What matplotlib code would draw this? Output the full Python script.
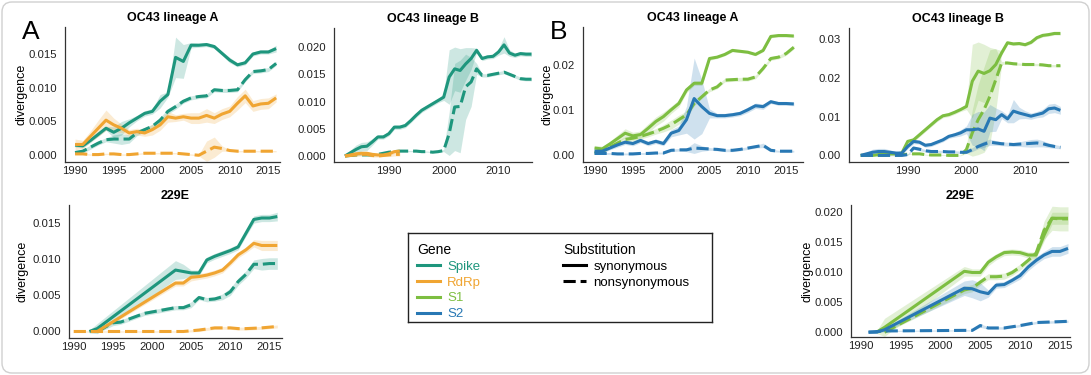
import numpy as np
import matplotlib
matplotlib.use("Agg")
import matplotlib.pyplot as plt
from matplotlib.lines import Line2D
from matplotlib.patches import FancyBboxPatch

plt.rcParams['font.family'] = ['Liberation Sans', 'DejaVu Sans']

# colours per gene
c_spike = '#1e967d'
c_rdrp = '#f0a532'
c_s1 = '#7dbe41'
c_s2 = '#2878b4'

# ---------------- OC43 lineage A (1990-2016) ----------------
years_a = list(range(1990, 2017))
a_spike_syn = [0.0015, 0.0014, 0.0022, 0.0031, 0.0040, 0.0034, 0.0040, 0.0048, 0.0055, 0.0062,
               0.0065, 0.0080, 0.0090, 0.0145, 0.0139, 0.0163, 0.0163, 0.0164, 0.0161, 0.0151,
               0.0141, 0.0134, 0.0137, 0.0150, 0.0153, 0.0153, 0.0158]
a_spike_syn_ci = [0.0003, 0.0003, 0.0003, 0.0003, 0.0003, 0.0008, 0.0010, 0.0006, 0.0004, 0.0004,
                  0.0004, 0.0010, 0.0004, 0.0030, 0.0025, 0.0004, 0.0003, 0.0003, 0.0003, 0.0003,
                  0.0004, 0.0003, 0.0003, 0.0003, 0.0003, 0.0003, 0.0005]
a_spike_non = [0.0004, 0.0006, 0.0012, 0.0018, 0.0023, 0.0024, 0.0024, 0.0024, 0.0033, 0.0038,
               0.0043, 0.0052, 0.0065, 0.0072, 0.0080, 0.0085, 0.0087, 0.0088, 0.0097, 0.0096,
               0.0096, 0.0097, 0.0112, 0.0124, 0.0125, 0.0127, 0.0136]
a_spike_non_ci = [0.0003, 0.0003, 0.0003, 0.0003, 0.0003, 0.0006, 0.0008, 0.0006, 0.0004, 0.0003,
                  0.0003, 0.0004, 0.0004, 0.0004, 0.0003, 0.0003, 0.0003, 0.0003, 0.0003, 0.0003,
                  0.0003, 0.0003, 0.0003, 0.0003, 0.0003, 0.0003, 0.0003]
a_rdrp_syn = [0.0016, 0.0016, 0.0028, 0.0040, 0.0052, 0.0045, 0.0040, 0.0033, 0.0035, 0.0033,
              0.0038, 0.0045, 0.0057, 0.0055, 0.0057, 0.0055, 0.0055, 0.0059, 0.0055, 0.0061,
              0.0065, 0.0077, 0.0088, 0.0073, 0.0076, 0.0077, 0.0085]
a_rdrp_syn_ci = [0.0008, 0.0006, 0.0008, 0.0012, 0.0015, 0.0010, 0.0006, 0.0005, 0.0005, 0.0005,
                 0.0008, 0.0008, 0.0008, 0.0005, 0.0005, 0.0008, 0.0008, 0.0010, 0.0008, 0.0008,
                 0.0008, 0.0010, 0.0010, 0.0008, 0.0008, 0.0008, 0.0006]
a_rdrp_non = [0.0002, 0.0002, 0.0001, 0.0001, 0.0002, 0.0002, 0.0001, 0.0001, 0.0002, 0.0003,
              0.0003, 0.0003, 0.0003, 0.0003, 0.0002, 0.0001, 0.0000, 0.0006, 0.0012, 0.0010,
              0.0007, 0.0006, 0.0006, 0.0006, 0.0006, 0.0006, 0.0006]
a_rdrp_non_ci = [0.0001, 0.0001, 0.0001, 0.0001, 0.0001, 0.0001, 0.0001, 0.0001, 0.0001, 0.0001,
                 0.0001, 0.0001, 0.0001, 0.0001, 0.0001, 0.0001, 0.0001, 0.0015, 0.0015, 0.0004,
                 0.0001, 0.0001, 0.0001, 0.0001, 0.0001, 0.0001, 0.0001]
a_s1_syn = [0.0016, 0.0014, 0.0025, 0.0037, 0.0049, 0.0043, 0.0046, 0.0060, 0.0075, 0.0086,
            0.0101, 0.0115, 0.0145, 0.0160, 0.0160, 0.0215, 0.0218, 0.0224, 0.0233, 0.0231,
            0.0229, 0.0224, 0.0233, 0.0264, 0.0266, 0.0266, 0.0265]
a_s1_syn_ci = [0.0006, 0.0006, 0.0006, 0.0008, 0.0010, 0.0008, 0.0008, 0.0010, 0.0010, 0.0010,
               0.0008, 0.0008, 0.0006, 0.0005, 0.0005, 0.0004, 0.0003, 0.0003, 0.0003, 0.0003,
               0.0003, 0.0003, 0.0003, 0.0003, 0.0003, 0.0003, 0.0003]
a_s1_non = [0.0005, 0.0008, 0.0018, 0.0027, 0.0035, 0.0038, 0.0042, 0.0047, 0.0053, 0.0060,
            0.0068, 0.0079, 0.0090, 0.0115, 0.0130, 0.0145, 0.0152, 0.0167, 0.0168, 0.0169,
            0.0169, 0.0174, 0.0193, 0.0215, 0.0218, 0.0226, 0.0240]
a_s1_non_ci = [0.0003, 0.0003, 0.0004, 0.0005, 0.0006, 0.0006, 0.0006, 0.0006, 0.0006, 0.0008,
               0.0010, 0.0010, 0.0008, 0.0005, 0.0004, 0.0004, 0.0004, 0.0004, 0.0004, 0.0004,
               0.0004, 0.0004, 0.0004, 0.0004, 0.0004, 0.0004, 0.0004]
a_s2_syn = [0.0009, 0.0009, 0.0016, 0.0023, 0.0029, 0.0026, 0.0033, 0.0026, 0.0031, 0.0026,
            0.0049, 0.0055, 0.0079, 0.0126, 0.0108, 0.0093, 0.0088, 0.0088, 0.0090, 0.0093,
            0.0101, 0.0110, 0.0108, 0.0119, 0.0115, 0.0115, 0.0114]
a_s2_syn_ci = [0.0004, 0.0004, 0.0004, 0.0005, 0.0005, 0.0005, 0.0005, 0.0005, 0.0005, 0.0005,
               0.0008, 0.0010, 0.0030, 0.0090, 0.0060, 0.0010, 0.0005, 0.0005, 0.0005, 0.0005,
               0.0006, 0.0006, 0.0006, 0.0004, 0.0004, 0.0004, 0.0004]
a_s2_non = [0.0004, 0.0004, 0.0004, 0.0003, 0.0003, 0.0003, 0.0004, 0.0004, 0.0005, 0.0005,
            0.0011, 0.0012, 0.0012, 0.0016, 0.0015, 0.0014, 0.0013, 0.0011, 0.0011, 0.0013,
            0.0016, 0.0019, 0.0022, 0.0011, 0.0009, 0.0009, 0.0009]
a_s2_non_ci = [0.0002, 0.0002, 0.0002, 0.0002, 0.0002, 0.0002, 0.0002, 0.0002, 0.0002, 0.0002,
               0.0003, 0.0003, 0.0004, 0.0012, 0.0006, 0.0003, 0.0003, 0.0003, 0.0003, 0.0003,
               0.0003, 0.0003, 0.0005, 0.0003, 0.0002, 0.0002, 0.0002]

# ---------------- OC43 lineage B (1982-2016) ----------------
years_b = list(range(1982, 2017))
b_spike_syn = [0.0000, 0.0006, 0.0012, 0.0017, 0.0018, 0.0026, 0.0035, 0.0035, 0.0041, 0.0053,
               0.0053, 0.0056, 0.0065, 0.0075, 0.0084, 0.0090, 0.0096, 0.0102, 0.0108, 0.0145,
               0.0160, 0.0157, 0.0169, 0.0179, 0.0194, 0.0179, 0.0182, 0.0183, 0.0191, 0.0204,
               0.0189, 0.0185, 0.0188, 0.0187, 0.0187]
b_spike_syn_ci = [0.0001, 0.0005, 0.0008, 0.0008, 0.0008, 0.0006, 0.0004, 0.0004, 0.0004, 0.0004,
                  0.0004, 0.0004, 0.0004, 0.0004, 0.0004, 0.0004, 0.0004, 0.0004, 0.0006, 0.0050,
                  0.0040, 0.0040, 0.0030, 0.0020, 0.0004, 0.0004, 0.0004, 0.0004, 0.0006, 0.0015,
                  0.0006, 0.0004, 0.0004, 0.0004, 0.0004]
b_spike_non = [0.0000, 0.0001, 0.0002, 0.0002, 0.0002, 0.0002, 0.0003, 0.0005, 0.0007, 0.0008,
               0.0009, 0.0009, 0.0009, 0.0009, 0.0008, 0.0008, 0.0007, 0.0008, 0.0010, 0.0041,
               0.0090, 0.0091, 0.0127, 0.0136, 0.0160, 0.0148, 0.0148, 0.0150, 0.0152, 0.0154,
               0.0150, 0.0146, 0.0142, 0.0141, 0.0141]
b_spike_non_ci = [0.0001, 0.0001, 0.0001, 0.0001, 0.0001, 0.0001, 0.0001, 0.0001, 0.0001, 0.0001,
                  0.0001, 0.0001, 0.0001, 0.0001, 0.0001, 0.0001, 0.0001, 0.0001, 0.0002, 0.0040,
                  0.0080, 0.0085, 0.0060, 0.0045, 0.0010, 0.0003, 0.0003, 0.0003, 0.0003, 0.0003,
                  0.0003, 0.0003, 0.0003, 0.0003, 0.0003]
years_b_rdrp = list(range(1982, 1993))
b_rdrp_syn = [0.0000, 0.0002, 0.0004, 0.0005, 0.0005, 0.0003, 0.0002, 0.0002, 0.0004, 0.0008, 0.0009]
b_rdrp_non = [0.0000, 0.0001, 0.0002, 0.0003, 0.0003, 0.0001, 0.0000, 0.0001, 0.0002, 0.0003, 0.0003]
b_rdrp_ci = [0.0001, 0.0002, 0.0003, 0.0003, 0.0003, 0.0003, 0.0002, 0.0002, 0.0003, 0.0003, 0.0003]
b_s1_syn = [0.0000, 0.0000, 0.0000, 0.0002, 0.0004, 0.0004, 0.0004, 0.0006, 0.0036, 0.0040,
            0.0053, 0.0066, 0.0079, 0.0092, 0.0102, 0.0105, 0.0111, 0.0118, 0.0126, 0.0191,
            0.0217, 0.0211, 0.0218, 0.0234, 0.0264, 0.0290, 0.0287, 0.0288, 0.0285, 0.0291,
            0.0303, 0.0309, 0.0311, 0.0314, 0.0314]
b_s1_syn_ci = [0.0001, 0.0001, 0.0001, 0.0002, 0.0002, 0.0002, 0.0002, 0.0002, 0.0005, 0.0005,
               0.0005, 0.0005, 0.0005, 0.0005, 0.0005, 0.0005, 0.0005, 0.0005, 0.0008, 0.0095,
               0.0075, 0.0075, 0.0060, 0.0040, 0.0006, 0.0004, 0.0004, 0.0004, 0.0004, 0.0004,
               0.0004, 0.0004, 0.0004, 0.0004, 0.0004]
b_s1_non = [0.0000, 0.0000, 0.0000, 0.0000, 0.0000, 0.0001, 0.0001, 0.0002, 0.0003, 0.0004,
            0.0004, 0.0002, 0.0001, 0.0001, 0.0001, 0.0000, 0.0000, 0.0000, 0.0015, 0.0058,
            0.0092, 0.0118, 0.0152, 0.0195, 0.0238, 0.0238, 0.0236, 0.0235, 0.0234, 0.0234,
            0.0234, 0.0233, 0.0231, 0.0231, 0.0231]
b_s1_non_ci = [0.0001, 0.0001, 0.0001, 0.0001, 0.0001, 0.0001, 0.0001, 0.0001, 0.0001, 0.0001,
               0.0001, 0.0001, 0.0001, 0.0001, 0.0001, 0.0001, 0.0001, 0.0001, 0.0010, 0.0060,
               0.0090, 0.0110, 0.0120, 0.0080, 0.0004, 0.0003, 0.0003, 0.0003, 0.0003, 0.0003,
               0.0003, 0.0003, 0.0003, 0.0003, 0.0003]
b_s2_syn = [0.0000, 0.0004, 0.0008, 0.0010, 0.0010, 0.0008, 0.0006, 0.0006, 0.0023, 0.0036,
            0.0034, 0.0026, 0.0028, 0.0034, 0.0040, 0.0049, 0.0053, 0.0058, 0.0066, 0.0066,
            0.0068, 0.0062, 0.0096, 0.0092, 0.0105, 0.0094, 0.0114, 0.0109, 0.0105, 0.0101,
            0.0105, 0.0109, 0.0120, 0.0122, 0.0116]
b_s2_syn_ci = [0.0002, 0.0004, 0.0008, 0.0008, 0.0008, 0.0006, 0.0004, 0.0004, 0.0006, 0.0006,
               0.0005, 0.0005, 0.0005, 0.0005, 0.0005, 0.0005, 0.0006, 0.0008, 0.0010, 0.0040,
               0.0045, 0.0050, 0.0035, 0.0030, 0.0010, 0.0010, 0.0030, 0.0015, 0.0010, 0.0008,
               0.0008, 0.0010, 0.0012, 0.0012, 0.0010]
b_s2_non = [0.0000, 0.0000, 0.0000, 0.0000, 0.0000, 0.0000, 0.0000, 0.0000, 0.0002, 0.0019,
            0.0016, 0.0012, 0.0010, 0.0010, 0.0010, 0.0009, 0.0009, 0.0008, 0.0008, 0.0015,
            0.0023, 0.0029, 0.0034, 0.0032, 0.0030, 0.0029, 0.0028, 0.0029, 0.0030, 0.0031,
            0.0032, 0.0030, 0.0026, 0.0023, 0.0021]
b_s2_non_ci = [0.0001, 0.0001, 0.0001, 0.0001, 0.0001, 0.0001, 0.0001, 0.0001, 0.0002, 0.0004,
               0.0004, 0.0003, 0.0003, 0.0003, 0.0003, 0.0003, 0.0003, 0.0003, 0.0003, 0.0005,
               0.0006, 0.0008, 0.0008, 0.0006, 0.0005, 0.0005, 0.0005, 0.0006, 0.0008, 0.0010,
               0.0010, 0.0008, 0.0006, 0.0005, 0.0004]

# ---------------- 229E ----------------
e_spike_syn_x = [1992, 1993, 2003, 2004, 2005, 2006, 2007, 2008, 2009, 2010, 2011, 2012, 2013, 2014, 2015, 2016]
e_spike_syn = [0.0000, 0.0004, 0.0085, 0.0083, 0.0081, 0.0081, 0.0099, 0.0104, 0.0108, 0.0112,
               0.0117, 0.0136, 0.0155, 0.0157, 0.0157, 0.0159]
e_spike_syn_ci = [0.0002, 0.0007, 0.0013, 0.0010, 0.0004, 0.0004, 0.0004, 0.0004, 0.0004, 0.0004,
                  0.0004, 0.0004, 0.0005, 0.0005, 0.0005, 0.0006]
e_rdrp_syn_x = [1993, 2003, 2004, 2005, 2006, 2007, 2008, 2009, 2010, 2011, 2012, 2013, 2014, 2015, 2016]
e_rdrp_syn = [0.0000, 0.0067, 0.0067, 0.0075, 0.0076, 0.0078, 0.0081, 0.0085, 0.0095, 0.0106,
              0.0113, 0.0122, 0.0119, 0.0119, 0.0119]
e_rdrp_syn_ci = [0.0002, 0.0004, 0.0004, 0.0005, 0.0004, 0.0004, 0.0004, 0.0004, 0.0004, 0.0004,
                 0.0004, 0.0005, 0.0007, 0.0007, 0.0007]
e_spike_non_x = [1993, 1995, 1996, 1999, 2003, 2004, 2005, 2006, 2007, 2008, 2009, 2010, 2011,
                 2012, 2013, 2014, 2015, 2016]
e_spike_non = [0.0000, 0.0012, 0.0013, 0.0025, 0.0033, 0.0033, 0.0037, 0.0047, 0.0044, 0.0045,
               0.0048, 0.0055, 0.0069, 0.0079, 0.0093, 0.0093, 0.0094, 0.0094]
e_spike_non_ci = [0.0002, 0.0004, 0.0003, 0.0003, 0.0003, 0.0003, 0.0004, 0.0003, 0.0003, 0.0003,
                  0.0004, 0.0005, 0.0005, 0.0005, 0.0006, 0.0008, 0.0008, 0.0008]
e_rdrp_non_x = [1990, 1992, 1995, 2000, 2004, 2006, 2008, 2010, 2011, 2012, 2014, 2016]
e_rdrp_non = [0.0000, 0.0000, 0.0000, 0.0000, 0.0000, 0.0002, 0.0005, 0.0005, 0.0004, 0.0004,
              0.0005, 0.0007]
e_rdrp_non_ci = [0.0001, 0.0001, 0.0001, 0.0001, 0.0001, 0.0002, 0.0002, 0.0002, 0.0002, 0.0002,
                 0.0002, 0.0002]
e_s1_syn_x = [1992, 1993, 2003, 2004, 2005, 2006, 2007, 2008, 2009, 2010, 2011, 2012, 2013, 2014, 2015, 2016]
e_s1_syn = [0.0000, 0.0008, 0.0101, 0.0099, 0.0099, 0.0116, 0.0125, 0.0132, 0.0133, 0.0132,
            0.0128, 0.0128, 0.0161, 0.0189, 0.0189, 0.0189]
e_s1_syn_ci = [0.0002, 0.0015, 0.0008, 0.0006, 0.0006, 0.0006, 0.0005, 0.0005, 0.0005, 0.0005,
               0.0005, 0.0005, 0.0010, 0.0010, 0.0010, 0.0010]
e_s1_non_x = [1993, 2003, 2004, 2005, 2006, 2007, 2008, 2009, 2010, 2011, 2012, 2013, 2014, 2015, 2016]
e_s1_non = [0.0000, 0.0070, 0.0073, 0.0083, 0.0092, 0.0092, 0.0093, 0.0099, 0.0108, 0.0119,
            0.0131, 0.0169, 0.0189, 0.0188, 0.0188]
e_s1_non_ci = [0.0002, 0.0006, 0.0006, 0.0005, 0.0005, 0.0005, 0.0005, 0.0005, 0.0005, 0.0005,
               0.0006, 0.0015, 0.0020, 0.0020, 0.0020]
e_s2_syn_x = [1991, 1992, 1993, 2003, 2004, 2005, 2006, 2007, 2008, 2009, 2010, 2011, 2012,
              2013, 2014, 2015, 2016]
e_s2_syn = [0.0000, 0.0000, 0.0004, 0.0073, 0.0072, 0.0067, 0.0064, 0.0078, 0.0079, 0.0086,
            0.0094, 0.0108, 0.0119, 0.0128, 0.0134, 0.0134, 0.0139]
e_s2_syn_ci = [0.0001, 0.0001, 0.0003, 0.0012, 0.0015, 0.0015, 0.0006, 0.0005, 0.0005, 0.0005,
               0.0006, 0.0006, 0.0006, 0.0006, 0.0008, 0.0008, 0.0008]
e_s2_non_x = [1991, 1993, 2003, 2004, 2005, 2006, 2007, 2008, 2010, 2012, 2014, 2016]
e_s2_non = [0.0000, 0.0002, 0.0003, 0.0003, 0.0011, 0.0007, 0.0007, 0.0007, 0.0011, 0.0016,
            0.0017, 0.0018]
e_s2_non_ci = [0.0001, 0.0001, 0.0001, 0.0001, 0.0003, 0.0002, 0.0002, 0.0002, 0.0002, 0.0002,
               0.0002, 0.0002]

W, H = 1091, 375


def px_axes(fig, left, top, right, bottom):
    return fig.add_axes([left / W, 1 - bottom / H, (right - left) / W, (bottom - top) / H])


def draw(ax, x, y, ci, color, dashed=False):
    x = np.asarray(x, float)
    y = np.asarray(y)
    ci = np.asarray(ci)
    ax.fill_between(x, y - ci, y + ci, color=color, alpha=0.22, lw=0)
    ls = (0, (4, 1.6)) if dashed else '-'
    ax.plot(x, y, color=color, lw=2.2, linestyle=ls, solid_capstyle='butt')


def style(ax, title, xlim, ylim, xticks, yticks, yfmt, ylabel_x=None):
    ax.set_xlim(xlim)
    ax.set_ylim(ylim)
    ax.set_xticks(xticks)
    ax.set_yticks(yticks)
    ax.set_yticklabels([yfmt % v for v in yticks])
    for s in ['top', 'right']:
        ax.spines[s].set_visible(False)
    for s in ['left', 'bottom']:
        ax.spines[s].set_color('#333333')
        ax.spines[s].set_linewidth(0.9)
    ax.tick_params(length=0, labelsize=8.2, colors='#222222')
    ax.tick_params(axis='y', pad=6)
    ax.tick_params(axis='x', pad=3)
    ax.set_title(title, fontsize=9, fontweight='bold', pad=4)
    if ylabel_x is not None:
        ax.set_ylabel('divergence', fontsize=9)
        bb = ax.get_position()
        ax.yaxis.set_label_coords((ylabel_x / W - bb.x0) / bb.width, 0.5)


fig = plt.figure(figsize=(W / 100, H / 100), dpi=100)

# figure border
fig.patches.append(FancyBboxPatch((0.02, 0.02), W / 100 - 0.04, H / 100 - 0.04,
                                  boxstyle='round,pad=0,rounding_size=0.1',
                                  transform=fig.dpi_scale_trans, fc='none',
                                  ec='#d0d0d0', lw=1.0))

# Panel A, OC43 lineage A
ax1 = px_axes(fig, 65, 27, 280, 162)
draw(ax1, years_a, a_spike_syn, a_spike_syn_ci, c_spike)
draw(ax1, years_a, a_spike_non, a_spike_non_ci, c_spike, True)
draw(ax1, years_a, a_rdrp_syn, a_rdrp_syn_ci, c_rdrp)
draw(ax1, years_a, a_rdrp_non, a_rdrp_non_ci, c_rdrp, True)
style(ax1, 'OC43 lineage A', (1988.7, 2016.5), (-0.001, 0.019), range(1990, 2016, 5),
      [0, 0.005, 0.010, 0.015], '%.3f', ylabel_x=28)

# Panel A, OC43 lineage B
ax2 = px_axes(fig, 334, 28, 532, 162)
draw(ax2, years_b, b_spike_syn, b_spike_syn_ci, c_spike)
draw(ax2, years_b, b_spike_non, b_spike_non_ci, c_spike, True)
draw(ax2, years_b_rdrp, b_rdrp_syn, b_rdrp_ci, c_rdrp)
draw(ax2, years_b_rdrp, b_rdrp_non, b_rdrp_ci, c_rdrp, True)
style(ax2, 'OC43 lineage B', (1980, 2016.1), (-0.0011, 0.0235), [1990, 2000, 2010],
      [0, 0.005, 0.010, 0.015, 0.020], '%.3f')

# Panel B, OC43 lineage A
ax3 = px_axes(fig, 583, 27, 803, 162)
draw(ax3, years_a, a_s1_syn, a_s1_syn_ci, c_s1)
draw(ax3, years_a, a_s1_non, a_s1_non_ci, c_s1, True)
draw(ax3, years_a, a_s2_syn, a_s2_syn_ci, c_s2)
draw(ax3, years_a, a_s2_non, a_s2_non_ci, c_s2, True)
style(ax3, 'OC43 lineage A', (1988.5, 2017.2), (-0.0015, 0.0285), range(1990, 2016, 5),
      [0, 0.01, 0.02], '%.2f', ylabel_x=553)

# Panel B, OC43 lineage B
ax4 = px_axes(fig, 849, 28, 1068, 162)
draw(ax4, years_b, b_s1_syn, b_s1_syn_ci, c_s1)
draw(ax4, years_b, b_s1_non, b_s1_non_ci, c_s1, True)
draw(ax4, years_b, b_s2_syn, b_s2_syn_ci, c_s2)
draw(ax4, years_b, b_s2_non, b_s2_non_ci, c_s2, True)
style(ax4, 'OC43 lineage B', (1980, 2017.3), (-0.0017, 0.0328), [1990, 2000, 2010],
      [0, 0.01, 0.02, 0.03], '%.2f')

# Panel A, 229E
ax5 = px_axes(fig, 69, 205, 282, 338)
draw(ax5, e_spike_syn_x, e_spike_syn, e_spike_syn_ci, c_spike)
draw(ax5, e_spike_non_x, e_spike_non, e_spike_non_ci, c_spike, True)
draw(ax5, e_rdrp_syn_x, e_rdrp_syn, e_rdrp_syn_ci, c_rdrp)
draw(ax5, e_rdrp_non_x, e_rdrp_non, e_rdrp_non_ci, c_rdrp, True)
style(ax5, '229E', (1989.4, 2016.6), (-0.0009, 0.0175), range(1990, 2016, 5),
      [0, 0.005, 0.010, 0.015], '%.3f', ylabel_x=28)

# Panel B, 229E
ax6 = px_axes(fig, 851, 205, 1070, 337)
draw(ax6, e_s1_syn_x, e_s1_syn, e_s1_syn_ci, c_s1)
draw(ax6, e_s1_non_x, e_s1_non, e_s1_non_ci, c_s1, True)
draw(ax6, e_s2_syn_x, e_s2_syn, e_s2_syn_ci, c_s2)
draw(ax6, e_s2_non_x, e_s2_non, e_s2_non_ci, c_s2, True)
style(ax6, '229E', (1988.8, 2016.25), (-0.0008, 0.0211), range(1990, 2016, 5),
      [0, 0.005, 0.010, 0.015, 0.020], '%.3f', ylabel_x=814)

# panel letters
fig.text(31 / W, 1 - 32 / H, 'A', fontsize=19, ha='center', va='center')
fig.text(559 / W, 1 - 32 / H, 'B', fontsize=19, ha='center', va='center')

# legend box
lax = px_axes(fig, 408, 233, 712, 322)
lax.set_xticks([])
lax.set_yticks([])
for s in lax.spines.values():
    s.set_color('#222222')
    s.set_linewidth(1.0)

genes = ['Spike', 'RdRp', 'S1', 'S2']
gene_colors = [c_spike, c_rdrp, c_s1, c_s2]
gene_handles = [Line2D([], [], color=c, lw=2.2) for c in gene_colors]
leg1 = lax.legend(gene_handles, genes, title='Gene', loc='upper left',
                  bbox_to_anchor=(0.0, 0.995), frameon=False, fontsize=9.5,
                  title_fontsize=10, labelcolor=gene_colors, handlelength=1.75,
                  handletextpad=0.5, labelspacing=0.28, alignment='left',
                  borderaxespad=0.3)
lax.add_artist(leg1)

sub_handles = [Line2D([], [], color='black', lw=2.2),
               Line2D([], [], color='black', lw=2.2, linestyle=(0, (4, 1.6)))]
leg2 = lax.legend(sub_handles, ['synonymous', 'nonsynonymous'], title='Substitution',
                  loc='upper left', bbox_to_anchor=(0.48, 0.995), frameon=False,
                  fontsize=9.5, title_fontsize=10, handlelength=1.75,
                  handletextpad=0.55, labelspacing=0.28, alignment='left',
                  borderaxespad=0.3)

fig.savefig('out.png', dpi=100)
